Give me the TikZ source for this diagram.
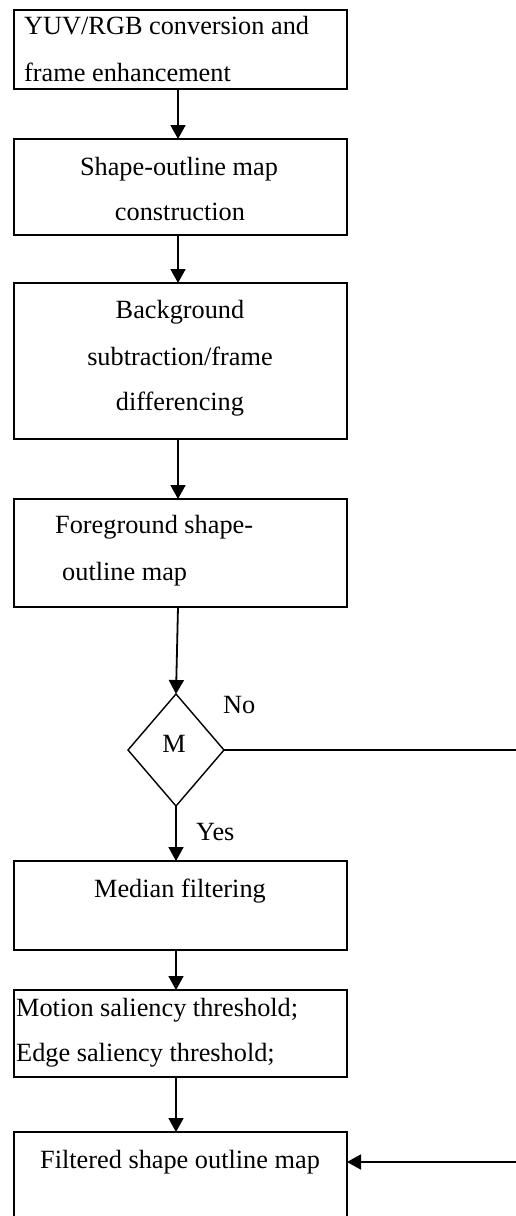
\documentclass[tikz,border=0pt]{standalone}
\usepackage{fontspec}
\setmainfont{Liberation Serif}
\usetikzlibrary{arrows.meta,shapes.geometric}
\tikzset{
  stepbox/.style={draw, line width=1.8pt, rectangle, inner sep=0pt, outer sep=0pt,
    minimum width=333pt},
  decision/.style={draw, line width=1.4pt, diamond, inner sep=0pt, outer sep=0pt,
    minimum width=96pt, minimum height=112pt},
  txt/.style={inner sep=0pt, font=\fontsize{26.3}{30}\selectfont},
  lefttxt/.style={txt, anchor=base west},
  midtxt/.style={txt, anchor=base},
  flow/.style={line width=1.8pt, -{Triangle[width=15pt,length=14pt]}},
  plain/.style={line width=1.4pt}
}
\begin{document}
\begin{tikzpicture}[x=1pt,y=-1pt]
  \useasboundingbox (0,0) rectangle (516,1216);
  \clip (0,0) rectangle (516,1216);

  % process boxes
  \node[stepbox, minimum height=79pt]  (b1) at (180.5,49.5) {};
  \node[stepbox, minimum height=96pt]  (b2) at (180.5,187) {};
  \node[stepbox, minimum height=156pt] (b3) at (180.5,361) {};
  \node[stepbox, minimum height=108pt] (b4) at (180.5,553) {};
  \node[decision] (m) at (176,750) {};
  \node[stepbox, minimum height=89pt]  (b5) at (180.5,905.5) {};
  \node[stepbox, minimum height=87pt]  (b6) at (180.5,1033.5) {};
  \node[stepbox, minimum height=108pt] (b7) at (180.5,1186) {};

  % box texts
  \node[lefttxt] (t1a) at (24,34) {YUV/RGB conversion and};
  \node[lefttxt] (t1b) at (24,81) {frame enhancement};
  \node[midtxt] (t2a) at (179,175) {Shape-outline map};
  \node[midtxt] (t2b) at (180,220) {construction};
  \node[midtxt] (t3a) at (180,318) {Background};
  \node[midtxt] (t3b) at (180,365) {subtraction/frame};
  \node[midtxt] (t3c) at (180,410) {differencing};
  \node[lefttxt] (t4a) at (55,533) {Foreground shape-};
  \node[lefttxt] (t4b) at (62,580) {outline map};
  \node[midtxt] (tm) at (174,752) {M};
  \node[lefttxt] (tno) at (223,713) {No};
  \node[lefttxt] (tyes) at (196,840) {Yes};
  \node[midtxt] (t5) at (180,897) {Median filtering};
  \node[lefttxt] (t6a) at (16,1016) {Motion saliency threshold;};
  \node[lefttxt] (t6b) at (16,1061) {Edge saliency threshold;};
  \node[midtxt] (t7) at (180,1168) {Filtered shape outline map};

  % connectors
  \draw[flow] ([xshift=-2.5pt]b1.south) -- ([xshift=-2.5pt]b2.north);
  \draw[flow] ([xshift=-2.5pt]b2.south) -- ([xshift=-2.5pt]b3.north);
  \draw[flow] ([xshift=-2.5pt]b3.south) -- ([xshift=-2.5pt]b4.north);
  \draw[flow] ([xshift=-2.5pt]b4.south) -- (m.north);
  \draw[flow] (m.south) -- ([xshift=-4.5pt]b5.north);
  \draw[flow] ([xshift=-4.5pt]b5.south) -- ([xshift=-4.5pt]b6.north);
  \draw[flow] ([xshift=-4.5pt]b6.south) -- ([xshift=-4.5pt]b7.north);

  \coordinate (noend) at (516,750);
  \coordinate (back) at (516,1162);
  \draw[plain] (m.east) -- (noend);
  \draw[flow] (back) -- (b7.east |- back);
\end{tikzpicture}
\end{document}
